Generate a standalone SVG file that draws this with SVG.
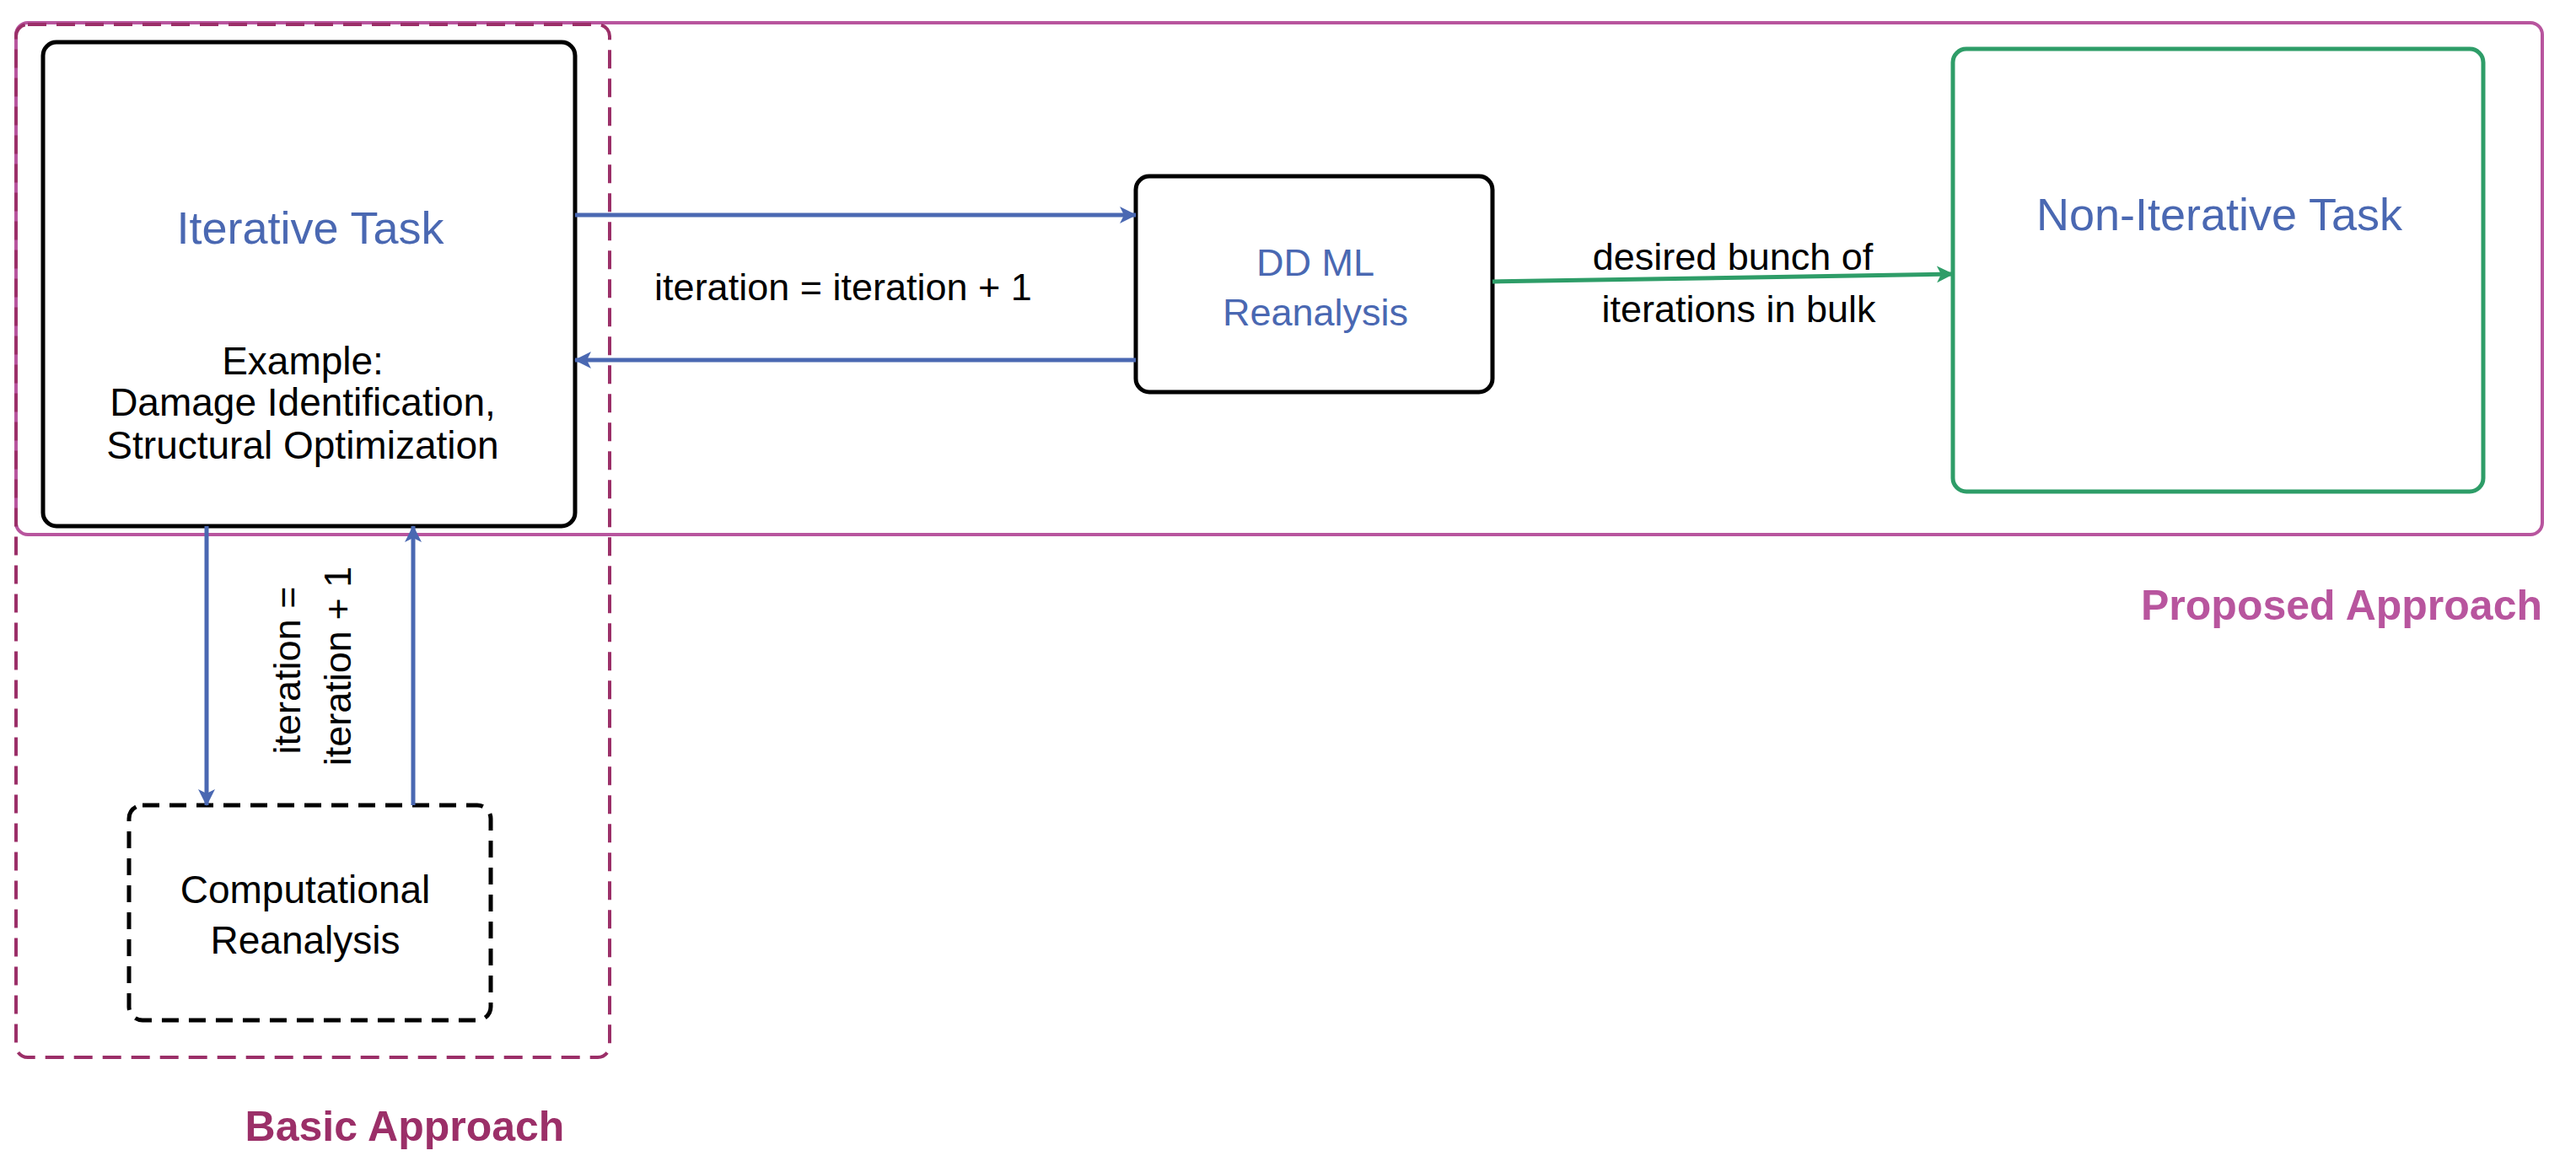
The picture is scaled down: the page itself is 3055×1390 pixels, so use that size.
<svg xmlns="http://www.w3.org/2000/svg" width="3055" height="1390" viewBox="0 0 3055 1390">
<style>
text{font-family:"Liberation Sans",Arial,sans-serif;}
.node{fill:#fff;stroke:#000;stroke-width:5}
.blue{stroke:#4a68b2;stroke-width:5;fill:none}
.t{font-size:46px;fill:#000;text-anchor:middle}
.tb{fill:#4a68b2;text-anchor:middle}
</style>
<defs>
<marker id="ab" viewBox="0 0 20 20" refX="19" refY="10" markerWidth="20" markerHeight="20" markerUnits="userSpaceOnUse" orient="auto"><path d="M0,0 L20,10 L0,20 L5,10 Z" fill="#4a68b2"/></marker>
<marker id="ag" viewBox="0 0 20 20" refX="19" refY="10" markerWidth="20" markerHeight="20" markerUnits="userSpaceOnUse" orient="auto"><path d="M0,0 L20,10 L0,20 L5,10 Z" fill="#2e9d68"/></marker>
</defs>
<g id="proposed">
<rect x="19" y="27" width="2996" height="607" rx="14" fill="none" stroke="#b8559e" stroke-width="4"/>
<text x="3015" y="735" font-size="50" font-weight="bold" fill="#b8559e" text-anchor="end">Proposed Approach</text>
</g>
<g id="basic">
<rect x="19" y="29" width="704" height="1225" rx="14" fill="none" stroke="#9b2f68" stroke-width="4" stroke-dasharray="22,12"/>
<text x="480" y="1353" font-size="50" font-weight="bold" fill="#9b2f68" text-anchor="middle">Basic Approach</text>
</g>
<g id="iterative">
<rect class="node" x="51" y="50" width="631" height="574" rx="16"/>
<text class="tb" x="368" y="289" font-size="54">Iterative Task</text>
<text class="t" x="359" y="444" font-size="36">Example:</text>
<text class="t" x="359" y="493" font-size="36">Damage Identification,</text>
<text class="t" x="359" y="544" font-size="36">Structural Optimization</text>
</g>
<g id="ddml">
<rect class="node" x="1347" y="209" width="423" height="256" rx="16"/>
<text class="tb" x="1560" y="327" font-size="45">DD ML</text>
<text class="tb" x="1560" y="386" font-size="45">Reanalysis</text>
</g>
<g id="noniterative">
<rect x="2316" y="58" width="629" height="525" rx="16" fill="#fff" stroke="#2e9d68" stroke-width="5"/>
<text class="tb" x="2632" y="273" font-size="54">Non-Iterative Task</text>
</g>
<g id="computational">
<rect x="153" y="955" width="429" height="255" rx="16" fill="#fff" stroke="#000" stroke-width="5" stroke-dasharray="20,12"/>
<text class="t" x="362" y="1071">Computational</text>
<text class="t" x="362" y="1131">Reanalysis</text>
</g>
<g id="connectors">
<line class="blue" x1="682" y1="255" x2="1347" y2="255" marker-end="url(#ab)"/>
<line class="blue" x1="1347" y1="427" x2="682" y2="427" marker-end="url(#ab)"/>
<text x="1000" y="356" font-size="45" fill="#000" text-anchor="middle">iteration = iteration + 1</text>
<line x1="1770" y1="334" x2="2316" y2="325" stroke="#2e9d68" stroke-width="5" marker-end="url(#ag)"/>
<text x="2055" y="320" font-size="45" fill="#000" text-anchor="middle">desired bunch of</text>
<text x="2062" y="382" font-size="45" fill="#000" text-anchor="middle">iterations in bulk</text>
<line class="blue" x1="245" y1="624" x2="245" y2="955" marker-end="url(#ab)"/>
<line class="blue" x1="490" y1="955" x2="490" y2="624" marker-end="url(#ab)"/>
<text transform="translate(356,795) rotate(-90)" font-size="45" fill="#000" text-anchor="middle">iteration =</text>
<text transform="translate(416,790) rotate(-90)" font-size="45" fill="#000" text-anchor="middle">iteration + 1</text>
</g>
</svg>
